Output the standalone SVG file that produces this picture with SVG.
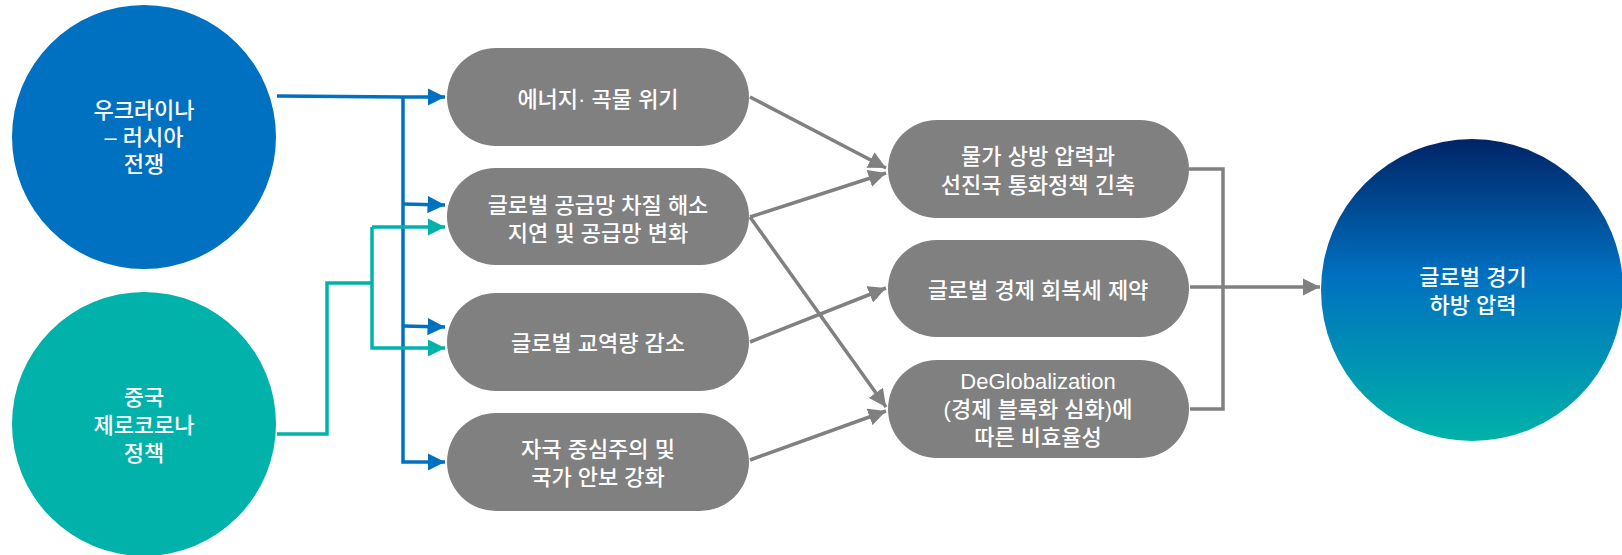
<svg xmlns="http://www.w3.org/2000/svg" width="1622" height="555" viewBox="0 0 1622 555">
<defs>
<linearGradient id="gr" x1="0" y1="0" x2="0" y2="1">
<stop offset="0" stop-color="#002466"/>
<stop offset="0.45" stop-color="#0070c0"/>
<stop offset="1" stop-color="#00b2a9"/>
</linearGradient>
<marker id="ab" viewBox="0 0 10 10" refX="10" refY="5" markerWidth="5" markerHeight="5" markerUnits="strokeWidth" orient="auto"><path d="M0,0 L10,5 L0,10 z" fill="#0070c0"/></marker>
<marker id="at" viewBox="0 0 10 10" refX="10" refY="5" markerWidth="5" markerHeight="5" markerUnits="strokeWidth" orient="auto"><path d="M0,0 L10,5 L0,10 z" fill="#00b2a9"/></marker>
<marker id="ag" viewBox="0 0 10 10" refX="10" refY="5" markerWidth="5" markerHeight="5" markerUnits="strokeWidth" orient="auto"><path d="M0,0 L10,5 L0,10 z" fill="#808080"/></marker>
</defs>
<style>
text{font-family:"Liberation Sans","Noto Sans CJK KR",sans-serif;font-size:22px;font-weight:500;fill:#fff;text-anchor:middle}
.pill{fill:#808080}
.b{fill:none;stroke:#0070c0;stroke-width:3.5}
.t{fill:none;stroke:#00b2a9;stroke-width:3.5}
.g{fill:none;stroke:#808080;stroke-width:3.5}
</style>
<rect width="1622" height="555" fill="#fff"/>
<g id="connectors">
<path class="b" d="M277,96 L403,97"/>
<path class="b" d="M403,97 L445,97" marker-end="url(#ab)"/>
<path class="b" d="M403,97 L403,462 L445,462" marker-end="url(#ab)"/>
<path class="b" d="M403,204 L445,205" marker-end="url(#ab)"/>
<path class="b" d="M403,326 L445,327" marker-end="url(#ab)"/>
<path class="t" d="M277,434 L327,434 L327,283 L372,283"/>
<path class="t" d="M372,227 L372,348 L445,348" marker-end="url(#at)"/>
<path class="t" d="M372,227 L445,227" marker-end="url(#at)"/>
<path class="g" d="M750,97 L886,168" marker-end="url(#ag)"/>
<path class="g" d="M750,217 L886,173" marker-end="url(#ag)"/>
<path class="g" d="M750,217 L886,407" marker-end="url(#ag)"/>
<path class="g" d="M750,342 L886,288" marker-end="url(#ag)"/>
<path class="g" d="M750,460 L886,411" marker-end="url(#ag)"/>
<path class="g" d="M1189,169 L1223,169 L1223,409 L1190,409"/>
<path class="g" d="M1190,287 L1320,287" marker-end="url(#ag)"/>
</g>
<g id="n-ukraine">
<circle cx="144" cy="137" r="132" fill="#0070c0"/>
<text><tspan x="144" y="118">우크라이나</tspan><tspan x="144" y="145">– 러시아</tspan><tspan x="144" y="172">전쟁</tspan></text>
</g>
<g id="n-china">
<circle cx="144" cy="424" r="132" fill="#00b2a9"/>
<text><tspan x="144" y="405">중국</tspan><tspan x="144" y="433">제로코로나</tspan><tspan x="144" y="461">정책</tspan></text>
</g>
<g id="n-energy">
<rect class="pill" x="447" y="48" width="302" height="98" rx="49"/>
<text x="598" y="107">에너지· 곡물 위기</text>
</g>
<g id="n-supply">
<rect class="pill" x="447" y="168" width="302" height="97" rx="48.5"/>
<text><tspan x="598" y="213">글로벌 공급망 차질 해소</tspan><tspan x="598" y="241">지연 및 공급망 변화</tspan></text>
</g>
<g id="n-trade">
<rect class="pill" x="447" y="293" width="302" height="98" rx="49"/>
<text x="598" y="351">글로벌 교역량 감소</text>
</g>
<g id="n-self">
<rect class="pill" x="447" y="413" width="302" height="98" rx="49"/>
<text><tspan x="598" y="457">자국 중심주의 및</tspan><tspan x="598" y="485">국가 안보 강화</tspan></text>
</g>
<g id="n-price">
<rect class="pill" x="888" y="120" width="301" height="98" rx="49"/>
<text><tspan x="1038" y="164">물가 상방 압력과</tspan><tspan x="1038" y="193">선진국 통화정책 긴축</tspan></text>
</g>
<g id="n-recovery">
<rect class="pill" x="888" y="240" width="301" height="97" rx="48.5"/>
<text x="1038" y="298">글로벌 경제 회복세 제약</text>
</g>
<g id="n-deglobal">
<rect class="pill" x="888" y="360" width="301" height="98" rx="49"/>
<text><tspan x="1038" y="389">DeGlobalization</tspan><tspan x="1038" y="417">(경제 블록화 심화)에</tspan><tspan x="1038" y="445">따른 비효율성</tspan></text>
</g>
<g id="n-global">
<circle cx="1472" cy="290" r="151" fill="url(#gr)"/>
<text><tspan x="1473" y="285">글로벌 경기</tspan><tspan x="1473" y="313">하방 압력</tspan></text>
</g>
</svg>
